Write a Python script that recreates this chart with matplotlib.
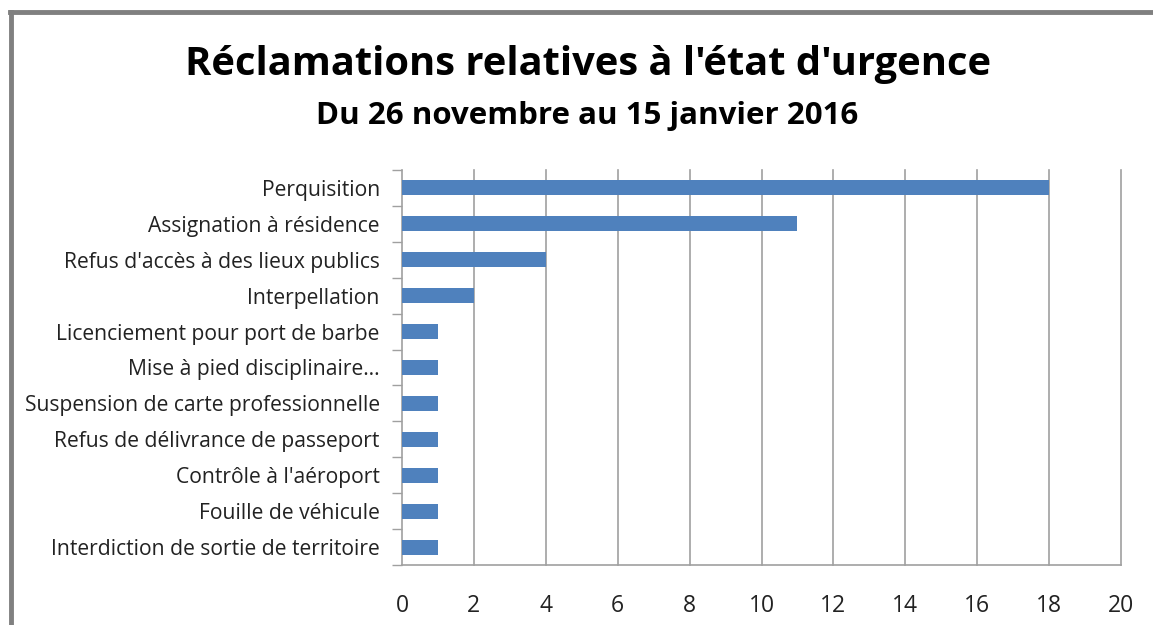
import matplotlib
matplotlib.use("Agg")
import matplotlib.pyplot as plt
import numpy as np

categories = [
    "Perquisition",
    "Assignation à résidence",
    "Refus d'accès à des lieux publics",
    "Interpellation",
    "Licenciement pour port de barbe",
    "Mise à pied disciplinaire…",
    "Suspension de carte professionnelle",
    "Refus de délivrance de passeport",
    "Contrôle à l'aéroport",
    "Fouille de véhicule",
    "Interdiction de sortie de territoire",
]
values = [18, 11, 4, 2, 1, 1, 1, 1, 1, 1, 1]
xticks = [0, 2, 4, 6, 8, 10, 12, 14, 16, 18, 20]

title = "Réclamations relatives à l'état d'urgence"
subtitle = "Du 26 novembre au 15 janvier 2016"

plt.rcParams['font.family'] = ['Open Sans', 'DejaVu Sans']

fig = plt.figure(figsize=(11.53, 6.25), dpi=100)
W, H = 1153, 625

# frame (left and top edges visible)
fig.add_artist(plt.Line2D([11 / W, 11 / W], [0, 1 - 12 / H], transform=fig.transFigure,
                          color="#808080", lw=3.5))
fig.add_artist(plt.Line2D([9.8 / W, 1], [1 - 12 / H, 1 - 12 / H], transform=fig.transFigure,
                          color="#808080", lw=3.5))

grid_c = "#a0a0a0"
ax = fig.add_axes([402 / W, 1 - 565 / H, (1121 - 402) / W, (565 - 170) / H])
n = len(categories)
ypos = list(range(n))[::-1]
ax.barh(ypos, values, height=0.42, color="#4F81BD", zorder=3)
ax.set_xlim(0, 20)
ax.set_ylim(-0.5, n - 0.5)
ax.set_xticks(xticks)
ax.set_xticklabels([str(t) for t in xticks], fontsize=16.5, color="#222222")
ax.set_yticks(ypos)
ax.set_yticklabels(categories, fontsize=15.2, color="#222222")
ax.tick_params(axis="y", length=0, pad=16)
ax.tick_params(axis="x", length=0, pad=21)
# category boundary ticks
ax.set_yticks(np.arange(-0.5, n, 1.0), minor=True)
ax.tick_params(axis="y", which="minor", length=7, width=1, color=grid_c)
ax.set_xticks(xticks, minor=True)
ax.tick_params(axis="x", which="minor", length=7, width=1, color=grid_c)

for xv in xticks[1:]:
    ax.axvline(xv, color=grid_c, lw=1.2, zorder=0, clip_on=False)
for s in ["top", "right"]:
    ax.spines[s].set_visible(False)
ax.spines["left"].set_color(grid_c)
ax.spines["bottom"].set_color(grid_c)
ax.spines["left"].set_linewidth(1.2)
ax.spines["bottom"].set_linewidth(1.2)

fig.text(588 / W, 1 - 64 / H, title, ha="center", va="center", fontsize=28.7,
         fontweight="bold", color="black")
fig.text(587 / W, 1 - 116 / H, subtitle, ha="center", va="center", fontsize=22.5,
         fontweight="bold", color="black")

fig.savefig("out.png", dpi=100)
